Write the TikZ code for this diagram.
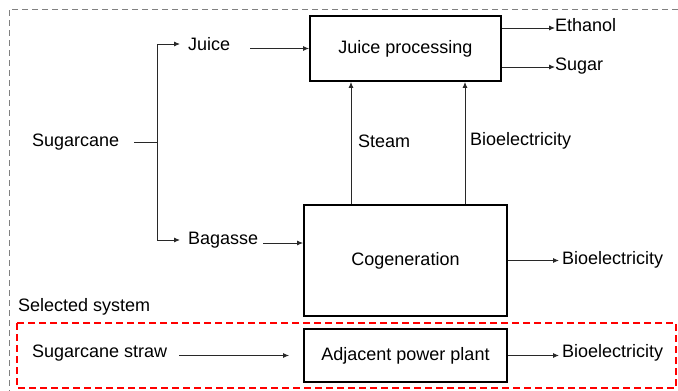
\documentclass[tikz,border=0pt]{standalone}
\usepackage{fontspec}
\setmainfont{Liberation Sans}
\usetikzlibrary{arrows.meta,positioning}
\definecolor{scgray}{RGB}{128,128,128}
\definecolor{scred}{RGB}{255,0,0}
\definecolor{scline}{RGB}{40,40,40}

\begin{document}
\begin{tikzpicture}[x=1pt, y=-1pt,
  lbl/.style={inner sep=0pt, anchor=west, font=\fontsize{18}{20}\selectfont},
  unit/.style={draw, line width=1.8pt, inner sep=0pt, font=\fontsize{18}{20}\selectfont},
  conn/.style={scline, line width=0.9pt},
  arr/.style={conn, -{Latex[length=6pt,width=5pt]}}]
\useasboundingbox (0,0) rectangle (678,391);
% System boundaries
\draw[scgray, line width=1pt, dash pattern=on 6pt off 4pt] (678,9) -- (9,9) -- (9,391);
\draw[scred, line width=1.6pt, dash pattern=on 7pt off 4pt] (17,323) rectangle (676,388);
\node[lbl] (sel) at (18,307) {Selected system};
% Process units
\node[unit, minimum width=191pt, minimum height=65pt] (jp) at (405.5,48.5) {Juice processing};
\node[unit, minimum width=203pt, minimum height=111pt] (cog) at (405.5,260.5) {Cogeneration};
\node[unit, minimum width=203pt, minimum height=53pt] (app) at (405.5,355.5) {Adjacent power plant};
% Streams
\node[lbl] (cane) at (32,142) {Sugarcane};
\coordinate (split) at (157,142);
\node[lbl] (juice) at (188,44) {Juice};
\node[lbl] (bag) at (188,240) {Bagasse};
\node[lbl] (straw) at (32,353) {Sugarcane straw};
\node[lbl] (eth) at (555,25) {Ethanol};
\node[lbl] (sug) at (555,66) {Sugar};
\node[lbl] (steam) at (358,141) {Steam};
\node[lbl] (bioint) at (470,141) {Bioelectricity};
\node[lbl] (biocog) at (562,260) {Bioelectricity};
\node[lbl] (bioapp) at (562,353) {Bioelectricity};
% Connectors
\draw[conn] ([xshift=15pt]cane.east) -- (split);
\draw[arr] (split) |- ([xshift=-8pt]juice.west);
\draw[arr] (split) |- ([xshift=-8pt]bag.west);
\draw[arr] ([xshift=20pt]juice.east |- jp.west) -- (jp.west);
\draw[arr] ([xshift=5pt,yshift=-3pt]bag.east) -- ([yshift=-3pt]bag.east -| cog.west);
\draw[arr] ([xshift=-54.5pt]cog.north) -- ([xshift=-54.5pt]cog.north |- jp.south);
\draw[arr] ([xshift=59.5pt]cog.north) -- ([xshift=59.5pt]cog.north |- jp.south);
\draw[arr] ([yshift=20.5pt]jp.east) -- ([yshift=20.5pt]jp.east -| eth.west);
\draw[arr] ([yshift=-18.5pt]jp.east) -- ([yshift=-18.5pt]jp.east -| sug.west);
\draw[arr] (cog.east) -- ([xshift=-3pt]cog.east -| biocog.west);
\draw[arr] (app.east) -- ([xshift=-3pt]app.east -| bioapp.west);
\draw[arr] ([xshift=12pt]straw.east |- app.west) -- ([xshift=-14pt]app.west);
\end{tikzpicture}
\end{document}
